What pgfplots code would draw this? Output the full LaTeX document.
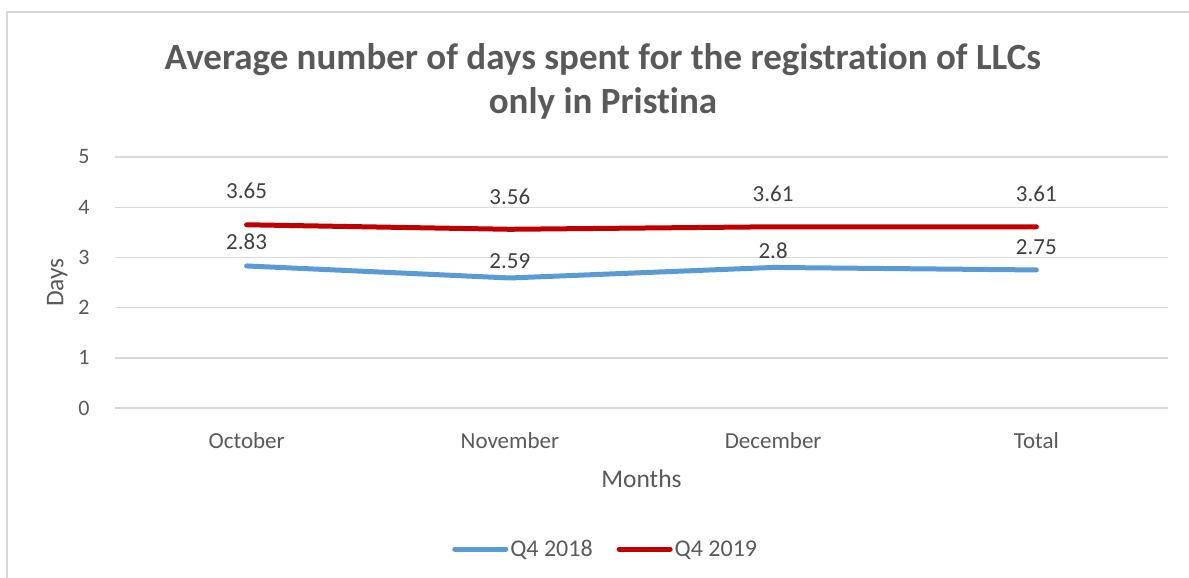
\documentclass[border=0pt]{standalone}
\usepackage{pgfplots}
\pgfplotsset{compat=1.18}
\usepackage{pgfplotstable}
\usepackage{fontspec}
\setmainfont{Carlito}[RawFeature={-liga;-clig;-calt}]
\definecolor{txt}{HTML}{595959}
\definecolor{lbl}{HTML}{404040}
\definecolor{blueA}{HTML}{5B9BD5}
\definecolor{redB}{HTML}{C00000}
\definecolor{gridc}{HTML}{D9D9D9}
\definecolor{framec}{HTML}{D9D9D9}

\pgfplotstableread{
x y off
0 2.83 24
1 2.59 17
2 2.8 17
3 2.75 23
}\dataA
\pgfplotstableread{
x y off
0 3.65 34
1 3.56 32
2 3.61 33
3 3.61 33
}\dataB

\begin{document}
\begin{tikzpicture}
\useasboundingbox (0pt,0pt) rectangle (1189pt,-578pt);
\draw[framec, line width=1.3pt] (7pt,-580pt) -- (7pt,-12pt) -- (1190pt,-12pt);
\begin{axis}[
  at={(115pt,-408pt)}, anchor=south west,
  scale only axis, width=1053pt, height=251pt,
  xmin=-0.5, xmax=3.5, ymin=0, ymax=5,
  xtick={0,1,2,3}, xticklabels={October,November,December,Total},
  ytick={0,1,2,3,4,5},
  /pgf/number format/assume math mode=true,
  axis line style={draw=none}, tick style={draw=none},
  ymajorgrids, grid style={gridc, line width=1.4pt},
  ticklabel style={text=txt},
  yticklabel style={font=\fontsize{22}{24}\selectfont, xshift=-22pt},
  xticklabel style={font=\fontsize{23}{26}\selectfont, yshift=-21pt},
  xlabel={Months}, ylabel={Days},
  label style={font=\fontsize{25.5}{28}\selectfont, text=txt},
  xlabel style={yshift=-14pt},
  ylabel style={yshift=4pt},
  title={Average number of days spent for the registration of LLCs\\only in Pristina},
  title style={font=\fontsize{37}{44}\selectfont\bfseries, text=txt, align=center, at={(0.4634,1)}, anchor=south, yshift=28pt},
  legend columns=2,
  legend style={draw=none, fill=none, at={(0.466,-0.562)}, anchor=center,
    font=\fontsize{24}{26}\selectfont, text=txt,
    /tikz/every even column/.append style={column sep=22pt}},
  legend image code/.code={\draw[#1, line cap=round] (0pt,0pt) -- (51pt,0pt);},
  point meta=explicit symbolic,
  nodes near coords,
  visualization depends on={\thisrow{off} \as \off},
  every node near coord/.append style={anchor=center, yshift=\off pt, text=lbl, font=\fontsize{23}{26}\selectfont},
]
\addplot[blueA, line width=5pt, line cap=round, line join=round] table[x=x, y=y, meta=y] {\dataA};
\addlegendentry{Q4 2018}
\addplot[redB, line width=5pt, line cap=round, line join=round] table[x=x, y=y, meta=y] {\dataB};
\addlegendentry{Q4 2019}
\end{axis}
\end{tikzpicture}
\end{document}
